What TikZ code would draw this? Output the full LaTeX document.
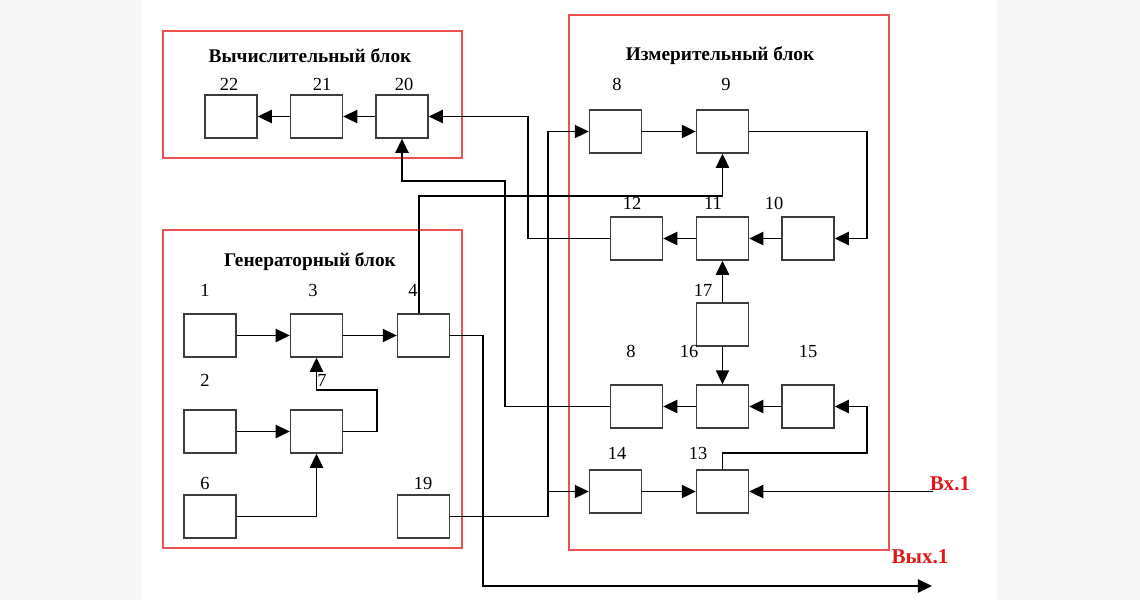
\documentclass[tikz,border=0pt]{standalone}
\usepackage{fontspec}
\setmainfont{Liberation Serif}
\usetikzlibrary{arrows.meta}

\definecolor{sidegray}{RGB}{247,247,247}
\definecolor{framered}{RGB}{238,80,80}
\definecolor{textred}{RGB}{226,24,24}
\definecolor{boxgray}{RGB}{60,60,60}

\begin{document}
\begin{tikzpicture}[x=0.02cm,y=-0.02cm,
    blk/.style={draw=boxgray,line width=0.8pt,minimum width=1.04cm,minimum height=0.86cm,inner sep=0pt},
    frame/.style={draw=framered,line width=0.8pt},
    num/.style={font=\fontsize{10.5}{12}\selectfont},
    title/.style={font=\fontsize{11}{13}\selectfont\bfseries},
    io/.style={font=\fontsize{12}{14}\selectfont\bfseries,text=textred},
    arr/.style={line width=0.9pt,-{Triangle[length=8pt,width=7.5pt]}}]
    \useasboundingbox (0,0) rectangle (1140,600);

    % Page background
    \fill [sidegray] (0,0) rectangle (142,600);
    \fill [sidegray] (997,0) rectangle (1140,600);

    % Frames of the three parts
    \draw [frame] (163,31) rectangle (462,158);
    \draw [frame] (163,230) rectangle (462,548);
    \draw [frame] (569,15) rectangle (889,550);
    \node [title] (tcomp) at (310,56) {Вычислительный блок};
    \node [title] (tgen) at (310,262) {Генераторный блок};
    \node [title] (tmeas) at (720,56) {Измерительный блок};

    % Computing part
    \node [blk] (b22) at (231,116.5) {};
    \node [blk] (b21) at (316.5,116.5) {};
    \node [blk] (b20) at (402,116.5) {};

    % Generator part
    \node [blk] (b1) at (210,335.5) {};
    \node [blk] (b3) at (316.5,335.5) {};
    \node [blk] (b4) at (423.5,335.5) {};
    \node [blk] (b2) at (210,431.5) {};
    \node [blk] (b7) at (316.5,431.5) {};
    \node [blk] (b6) at (210,516.5) {};
    \node [blk] (b19) at (423.5,516.5) {};

    % Measuring part
    \node [blk] (b8) at (615.5,131.5) {};
    \node [blk] (b9) at (722.5,131.5) {};
    \node [blk] (b12) at (636.5,238.5) {};
    \node [blk] (b11) at (722.5,238.5) {};
    \node [blk] (b10) at (808,238.5) {};
    \node [blk] (b17) at (722.5,324.5) {};
    \node [blk] (b8l) at (636.5,406.5) {};
    \node [blk] (b16) at (722.5,406.5) {};
    \node [blk] (b15) at (808,406.5) {};
    \node [blk] (b14) at (615.5,491.5) {};
    \node [blk] (b13) at (722.5,491.5) {};

    % Numbers of the blocks
    \node [num] (n22) at (229,84) {22};
    \node [num] (n21) at (322,84) {21};
    \node [num] (n20) at (404,84) {20};
    \node [num] (n1) at (205,290) {1};
    \node [num] (n3) at (313,290) {3};
    \node [num] (n4) at (413,290) {4};
    \node [num] (n2) at (205,380) {2};
    \node [num] (n7) at (322,380) {7};
    \node [num] (n6) at (205,483) {6};
    \node [num] (n19) at (423,483) {19};
    \node [num] (n8) at (617,84) {8};
    \node [num] (n9) at (726,84) {9};
    \node [num] (n12) at (632,203) {12};
    \node [num] (n11) at (713,203) {11};
    \node [num] (n10) at (774,203) {10};
    \node [num] (n17) at (703,290) {17};
    \node [num] (n8l) at (631,351) {8};
    \node [num] (n16) at (689,351) {16};
    \node [num] (n15) at (808,351) {15};
    \node [num] (n14) at (617,453) {14};
    \node [num] (n13) at (698,453) {13};

    % Bends of the wires
    \coordinate (k7) at (377,390);
    \coordinate (k4) at (419,196);
    \coordinate (k4b) at (483,586);
    \coordinate (k19) at (548,131.5);
    \coordinate (k12) at (528,116.5);
    \coordinate (k8) at (505,181);
    \coordinate (k9) at (867,131.5);
    \coordinate (k13) at (867,453);
    \coordinate (in1) at (933,491.5);
    \coordinate (out1) at (932,586);

    % Generator wires
    \draw [arr] (b1) -- (b3);
    \draw [arr] (b3) -- (b4);
    \draw [arr] (b2) -- (b7);
    \draw [arr] (b6.east) -| (b7.south);
    \draw [arr] (b7.east) -| (k7) -| (b3.south);
    \draw [arr] (b4.north -| k4) -- (k4) -| (b9.south);
    \draw [arr] (b4.east) -| (k4b) -- (out1);
    \draw [arr] (b19.east) -| (k19) -- (b8.west);
    \draw [arr] (b14.west -| k19) -- (b14.west);

    % Computing wires
    \draw [arr] (b20) -- (b21);
    \draw [arr] (b21) -- (b22);
    \draw [arr] (b12.west) -| (k12) -- (b20.east);
    \draw [arr] (b8l.west) -| (k8) -| (b20.south);

    % Measuring wires
    \draw [arr] (b8) -- (b9);
    \draw [arr] (b9.east) -- (k9) |- (b10.east);
    \draw [arr] (b10) -- (b11);
    \draw [arr] (b11) -- (b12);
    \draw [arr] (b17) -- (b11);
    \draw [arr] (b17) -- (b16);
    \draw [arr] (b16) -- (b8l);
    \draw [arr] (b15) -- (b16);
    \draw [arr] (b14) -- (b13);
    \draw [arr] (b13.north) |- (k13) |- (b15.east);
    \draw [arr] (in1) -- (b13.east);

    % Input and output
    \node [io] (lin) at (950,484) {Вх.1};
    \node [io] (lout) at (920,557) {Вых.1};
\end{tikzpicture}
\end{document}
